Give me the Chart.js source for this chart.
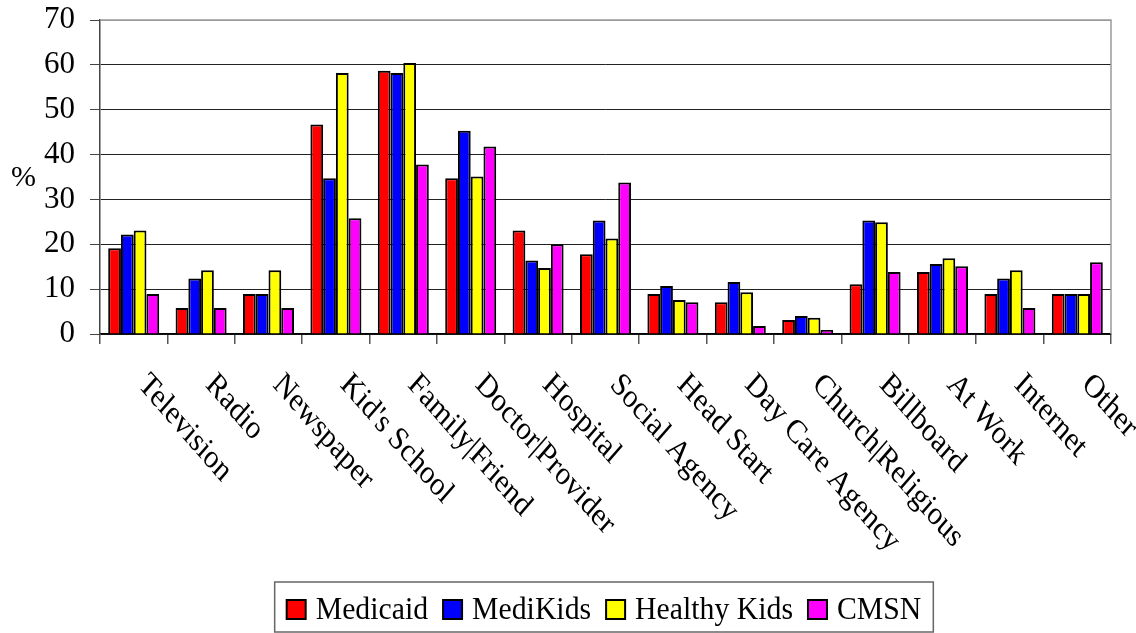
<!DOCTYPE html>
<html>
<head>
<meta charset="utf-8">
<script src="https://cdn.jsdelivr.net/npm/chart.js@4"></script>
<style>
  html, body { margin: 0; padding: 0; background: #fff; }
  #wrap { width: 1136px; height: 633px; }
</style>
</head>
<body>
<div id="wrap"><canvas id="c" width="1136" height="633"></canvas></div>
<script>
const categories = ["Television", "Radio", "Newspaper", "Kid's School", "Family|Friend", "Doctor|Provider", "Hospital", "Social Agency", "Head Start", "Day Care Agency", "Church|Religious", "Billboard", "At Work", "Internet", "Other"];
const seriesNames = ["Medicaid", "MediKids", "Healthy Kids", "CMSN"];
const medicaid    = [19.1, 5.8, 8.9, 46.7, 58.7, 34.7, 23.1, 17.8, 8.9, 7.1, 3.1, 11.1, 13.8, 8.9, 8.9];
const mediKids    = [22.2, 12.4, 8.9, 34.7, 58.2, 45.3, 16.4, 25.3, 10.7, 11.6, 4.0, 25.3, 15.6, 12.4, 8.9];
const healthyKids = [23.1, 14.2, 14.2, 58.2, 60.4, 35.1, 14.7, 21.3, 7.6, 9.3, 3.6, 24.9, 16.9, 14.2, 8.9];
const cmsn        = [8.9, 5.8, 5.8, 25.8, 37.8, 41.8, 20.0, 33.8, 7.1, 1.8, 0.9, 13.8, 15.1, 5.8, 16.0];
const yTicks = [0, 10, 20, 30, 40, 50, 60, 70];
const yAxisLabel = "%";

const colors = ["#FF0000", "#0000FF", "#FFFF00", "#FF00FF"];
const FONT = "'Liberation Serif', 'Times New Roman', serif";

const seriesData = [medicaid, mediKids, healthyKids, cmsn];

const extras = {
  id: 'extras',
  afterDraw(chart) {
    const ctx = chart.ctx;
    const area = chart.chartArea;
    const xs = chart.scales.x;
    ctx.save();
    // right & top border
    ctx.strokeStyle = '#9a9a9a';
    ctx.lineWidth = 1.5;
    ctx.beginPath();
    ctx.moveTo(area.left, area.top);
    ctx.lineTo(area.right, area.top);
    ctx.lineTo(area.right, area.bottom);
    ctx.stroke();

    // y label
    ctx.fillStyle = '#000';
    ctx.font = '30px ' + FONT;
    ctx.textAlign = 'left';
    ctx.textBaseline = 'middle';
    ctx.fillText(yAxisLabel, 11, 178);

    // rotated category labels
    ctx.font = '32px ' + FONT;
    ctx.textAlign = 'left';
    ctx.textBaseline = 'top';
    categories.forEach((c, i) => {
      const x = xs.getPixelForValue(i);
      ctx.save();
      ctx.translate(x + 19, area.bottom + 34);
      ctx.scale(0.9, 1.03);
      ctx.rotate(Math.PI / 4);
      ctx.fillText(c, 0, 0);
      ctx.restore();
    });

    // legend
    ctx.font = '32px ' + FONT;
    ctx.textBaseline = 'alphabetic';
    const sx = 0.93;
    const box = 19, gapBT = 10, gapItem = 15, pad = 12;
    const widths = seriesNames.map(n => ctx.measureText(n).width * sx);
    const total = widths.reduce((a, w) => a + box + gapBT + w, 0) + gapItem * (seriesNames.length - 1);
    const lw = total + pad * 2;
    const cx = 604;
    const lx = cx - lw / 2;
    const ly = 582, lh = 50;
    ctx.strokeStyle = '#666';
    ctx.lineWidth = 1.5;
    ctx.strokeRect(lx, ly, lw, lh);
    let x = lx + pad;
    seriesNames.forEach((n, i) => {
      ctx.fillStyle = colors[i];
      ctx.fillRect(x, 600, box, box);
      ctx.strokeStyle = '#000';
      ctx.lineWidth = 2;
      ctx.strokeRect(x, 600, box, box);
      x += box + gapBT;
      ctx.fillStyle = '#000';
      ctx.save();
      ctx.translate(x, 619);
      ctx.scale(sx, 1);
      ctx.fillText(n, 0, 0);
      ctx.restore();
      x += widths[i] + gapItem;
    });
    ctx.restore();
  }
};

new Chart(document.getElementById('c'), {
  type: 'bar',
  data: {
    labels: categories,
    datasets: seriesNames.map((n, i) => ({
      label: n,
      data: seriesData[i],
      backgroundColor: colors[i],
      borderColor: '#000',
      borderWidth: 2,
      borderSkipped: 'start',
      categoryPercentage: 0.757,
      barPercentage: 1.0
    }))
  },
  options: {
    responsive: false,
    animation: false,
    devicePixelRatio: 1,
    layout: { padding: { top: 20, right: 25, left: 0, bottom: 0 } },
    plugins: { legend: { display: false }, tooltip: { enabled: false } },
    scales: {
      x: {
        type: 'category',
        grid: { offset: true, drawOnChartArea: false, drawTicks: true, tickLength: 10, color: '#555', lineWidth: 1.5 },
        border: { display: true, color: '#000', width: 1.5 },
        ticks: { display: false },
        afterFit(scale) { scale.height = 299; scale.paddingLeft = 0; scale.paddingRight = 0; }
      },
      y: {
        min: 0, max: 70,
        afterBuildTicks(scale) { scale.ticks = yTicks.map(v => ({ value: v })); },
        grid: {
          color: ctx => (ctx.tick && ctx.tick.value === 70) ? '#9a9a9a' : '#222',
          tickColor: '#444',
          lineWidth: 1,
          tickLength: 10
        },
        border: { display: true, color: '#444', width: 1.5 },
        ticks: {
          color: '#000',
          padding: 15,
          font: { family: FONT, size: 31 }
        },
        afterFit(scale) { scale.width = 100; scale.paddingTop = 0; scale.paddingBottom = 0; }
      }
    }
  },
  plugins: [extras]
});
</script>
</body>
</html>
